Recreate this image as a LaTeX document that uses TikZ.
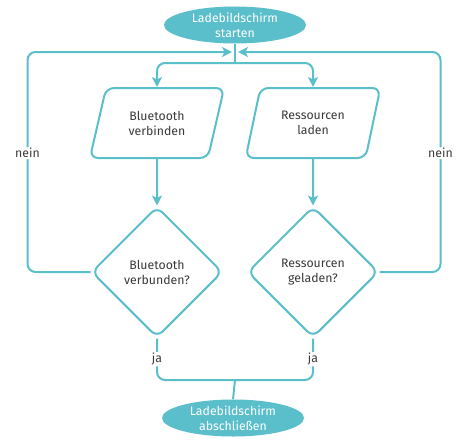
\documentclass[tikz,border=0pt]{standalone}
\usepackage{fontspec}
\setmainfont{Fira Sans}
\usetikzlibrary{shapes.geometric,arrows.meta}
\definecolor{teal}{HTML}{5BBFCB}
\definecolor{ink}{HTML}{3A3A3A}
\tikzset{
  txt/.style={font=\fontsize{12.3}{15}\selectfont},
  terminal/.style={ellipse, fill=teal, text=white, minimum width=142pt, minimum height=37pt,
    inner sep=0pt, align=center, txt},
  io/.style={trapezium, trapezium left angle=72, trapezium right angle=108, trapezium stretches=true,
    draw=teal, line width=2pt, fill=white, rounded corners=8pt, minimum width=135pt, minimum height=70pt,
    align=center, text=ink, txt},
  decision/.style={diamond, aspect=1, draw=teal, line width=2pt, fill=white, rounded corners=8pt,
    minimum width=131pt, minimum height=131pt, inner sep=0pt, align=center, text=ink, txt},
  flow/.style={draw=teal, line width=2pt, rounded corners=8pt},
  arrow/.style={flow, -{Stealth[length=10pt,width=10pt,inset=2.5pt]}},
  lbl/.style={fill=white, inner sep=1pt, text=ink, txt},
}
\begin{document}
\begin{tikzpicture}[x=1pt,y=-1pt]
  \useasboundingbox (0,0) rectangle (465,439);

  % start and end
  \node[terminal] (start) at (235,25) {Ladebildschirm\\starten};
  \node[terminal] (end) at (233,418) {Ladebildschirm\\abschließen};

  % two parallel branches
  \node[io] (bt) at (157,123) {Bluetooth\\verbinden};
  \node[io] (res) at (313,123) {Ressourcen\\laden};
  \node[decision] (btq) at (157,272) {Bluetooth\\verbunden?};
  \node[decision] (resq) at (313,272) {Ressourcen\\geladen?};

  % junction points
  \coordinate (merge) at (235,52);
  \coordinate (split) at (235,63);
  \coordinate (join) at (235,380);

  % start to branches
  \draw[flow] (start.south) -- (split);
  \draw[arrow] (split) -| (bt.north);
  \draw[arrow] (split) -| (res.north);
  \draw[arrow] (bt.south) -- (btq.north);
  \draw[arrow] (res.south) -- (resq.north);

  % retry loops
  \draw[arrow] (btq.west) -- ++(-63,0) |- node[lbl,pos=0.27] {nein} ([xshift=-3pt]merge);
  \draw[arrow] (resq.east) -- ++(61,0) |- node[lbl,pos=0.27] {nein} ([xshift=3pt]merge);

  % success paths
  \draw[flow] (btq.south) |- node[lbl,pos=0.25] {ja} (join);
  \draw[flow] (resq.south) |- node[lbl,pos=0.25] {ja} (join);
  \draw[flow] (join) -- (end.north);
\end{tikzpicture}
\end{document}
